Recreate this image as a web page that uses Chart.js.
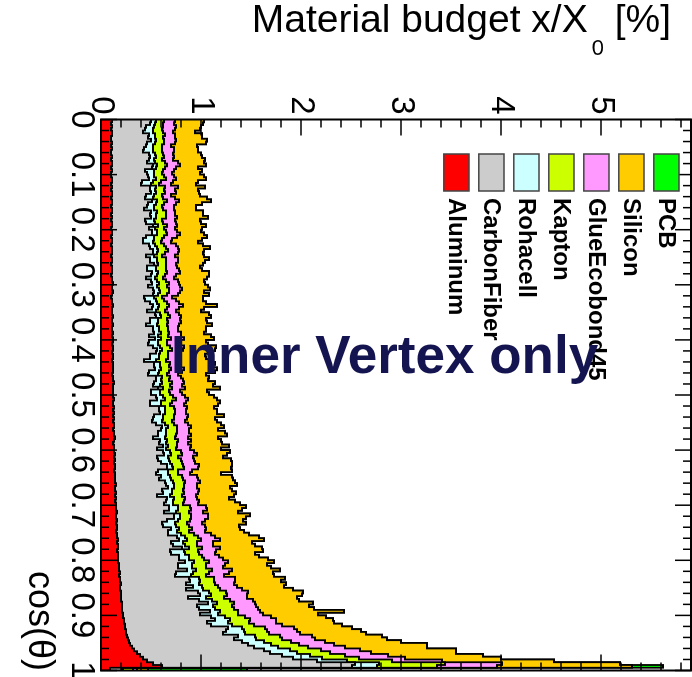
<!DOCTYPE html>
<html>
<head>
<meta charset="utf-8">
<title>Material budget – Inner Vertex only</title>
<script src="https://cdn.jsdelivr.net/npm/chart.js@4.4.1/dist/chart.umd.min.js"></script>
<style>
  html, body { margin: 0; padding: 0; overflow: hidden; background: #ffffff; width: 692px; height: 677px; }
  /* The plot is laid out with cos(theta) along the horizontal axis and then turned a quarter turn clockwise. */
  #wrap { position: absolute; left: 0; top: 0; width: 677px; height: 692px;
          transform-origin: 0 0; transform: translateX(692px) rotate(90deg); }
</style>
</head>
<body>
<div id="wrap"><canvas id="budget" width="677" height="692"></canvas></div>
<script>
// Radiation length per material, x/X0 in %, 200 bins of cos(theta) from 0 to 1.
const aluminum = [
  0.11,0.10,0.11,0.10,0.11,0.11,0.10,0.10,0.11,0.10, 0.11,0.10,0.10,0.11,0.10,0.11,0.11,0.10,0.11,0.10,
  0.10,0.11,0.11,0.10,0.11,0.10,0.11,0.11,0.10,0.11, 0.11,0.10,0.11,0.11,0.10,0.11,0.10,0.11,0.11,0.10,
  0.11,0.11,0.10,0.11,0.11,0.10,0.11,0.11,0.11,0.10, 0.11,0.11,0.10,0.11,0.11,0.11,0.10,0.11,0.11,0.12,
  0.11,0.11,0.12,0.11,0.10,0.11,0.11,0.12,0.11,0.11, 0.11,0.12,0.11,0.11,0.12,0.11,0.11,0.12,0.11,0.12,
  0.12,0.11,0.12,0.12,0.11,0.12,0.12,0.11,0.12,0.12, 0.12,0.12,0.11,0.12,0.12,0.13,0.12,0.12,0.12,0.12,
  0.12,0.13,0.12,0.12,0.13,0.12,0.13,0.12,0.13,0.12, 0.13,0.13,0.12,0.13,0.13,0.14,0.13,0.12,0.13,0.13,
  0.13,0.14,0.13,0.14,0.13,0.14,0.14,0.13,0.14,0.14, 0.14,0.14,0.15,0.14,0.14,0.15,0.14,0.15,0.14,0.15,
  0.15,0.15,0.16,0.15,0.15,0.16,0.15,0.16,0.16,0.15, 0.16,0.16,0.17,0.16,0.17,0.17,0.16,0.17,0.17,0.17,
  0.17,0.18,0.18,0.18,0.19,0.18,0.19,0.19,0.20,0.19, 0.19,0.20,0.20,0.20,0.20,0.21,0.21,0.21,0.21,0.22,
  0.22,0.23,0.23,0.24,0.24,0.25,0.25,0.26,0.27,0.28, 0.29,0.31,0.33,0.36,0.39,0.42,0.46,0.52,0.61,0.09
];
const carbonFiber = [
  0.39,0.39,0.34,0.34,0.31,0.37,0.37,0.40,0.35,0.35, 0.32,0.32,0.38,0.38,0.38,0.35,0.41,0.41,0.33,0.36,
  0.37,0.37,0.30,0.30,0.38,0.39,0.39,0.34,0.34,0.40, 0.36,0.36,0.32,0.39,0.39,0.39,0.34,0.34,0.41,0.38,
  0.40,0.40,0.35,0.31,0.31,0.38,0.38,0.41,0.41,0.35, 0.38,0.38,0.43,0.35,0.35,0.40,0.40,0.34,0.39,0.39,
  0.36,0.41,0.41,0.41,0.33,0.33,0.38,0.40,0.40,0.35, 0.43,0.43,0.38,0.38,0.33,0.41,0.41,0.41,0.37,0.42,
  0.36,0.36,0.40,0.44,0.44,0.37,0.37,0.32,0.41,0.41, 0.42,0.36,0.36,0.43,0.43,0.40,0.40,0.45,0.38,0.38,
  0.43,0.43,0.37,0.37,0.45,0.46,0.46,0.41,0.39,0.39, 0.42,0.48,0.48,0.44,0.44,0.38,0.46,0.46,0.49,0.43,
  0.49,0.49,0.43,0.43,0.47,0.52,0.52,0.44,0.41,0.46, 0.44,0.50,0.50,0.53,0.47,0.47,0.42,0.51,0.51,0.48,
  0.53,0.53,0.47,0.58,0.58,0.50,0.46,0.46,0.54,0.52, 0.51,0.60,0.61,0.54,0.55,0.64,0.53,0.53,0.61,0.61,
  0.67,0.59,0.59,0.68,0.56,0.56,0.69,0.70,0.65,0.73, 0.66,0.77,0.79,0.67,0.78,0.86,0.75,0.77,0.88,0.77,
  0.88,0.91,0.83,0.86,1.03,1.00,0.97,1.11,1.06,1.13, 1.18,1.22,1.30,1.33,1.42,1.50,1.70,2.02,1.90,0.12
];
const rohacell = [
  0.05,0.05,0.08,0.08,0.10,0.06,0.07,0.05,0.08,0.07, 0.09,0.10,0.06,0.06,0.05,0.08,0.04,0.04,0.09,0.07,
  0.06,0.07,0.11,0.10,0.06,0.05,0.05,0.08,0.08,0.05, 0.08,0.07,0.10,0.06,0.06,0.05,0.09,0.09,0.05,0.06,
  0.05,0.05,0.08,0.11,0.10,0.06,0.07,0.05,0.04,0.08, 0.07,0.07,0.04,0.09,0.09,0.06,0.06,0.09,0.06,0.07,
  0.09,0.06,0.06,0.05,0.10,0.11,0.07,0.06,0.06,0.09, 0.05,0.05,0.08,0.08,0.11,0.06,0.06,0.07,0.09,0.06,
  0.09,0.10,0.07,0.05,0.04,0.09,0.09,0.12,0.06,0.06, 0.06,0.10,0.10,0.06,0.05,0.08,0.07,0.05,0.09,0.09,
  0.07,0.08,0.11,0.11,0.06,0.06,0.05,0.09,0.10,0.10, 0.09,0.06,0.05,0.08,0.08,0.12,0.07,0.07,0.05,0.09,
  0.07,0.07,0.11,0.11,0.09,0.05,0.06,0.10,0.12,0.09, 0.12,0.08,0.08,0.06,0.10,0.09,0.13,0.07,0.07,0.09,
  0.09,0.09,0.12,0.06,0.06,0.11,0.13,0.13,0.08,0.09, 0.13,0.08,0.08,0.12,0.12,0.07,0.14,0.14,0.10,0.10,
  0.09,0.14,0.14,0.09,0.17,0.16,0.10,0.10,0.13,0.09, 0.17,0.11,0.11,0.18,0.13,0.09,0.16,0.16,0.10,0.18,
  0.14,0.15,0.21,0.21,0.14,0.18,0.22,0.17,0.22,0.22, 0.23,0.24,0.26,0.27,0.28,0.29,0.30,0.24,0.25,0.01
];
const kapton = [
  0.08,0.08,0.09,0.09,0.10,0.10,0.08,0.08,0.09,0.09, 0.09,0.09,0.08,0.08,0.08,0.10,0.10,0.09,0.09,0.08,
  0.10,0.10,0.08,0.08,0.09,0.09,0.09,0.08,0.10,0.10, 0.08,0.08,0.09,0.09,0.10,0.10,0.08,0.08,0.09,0.09,
  0.09,0.10,0.10,0.08,0.08,0.09,0.09,0.10,0.08,0.08, 0.09,0.09,0.08,0.10,0.10,0.09,0.08,0.08,0.09,0.10,
  0.10,0.10,0.09,0.09,0.08,0.08,0.10,0.10,0.09,0.09, 0.08,0.09,0.09,0.10,0.10,0.09,0.09,0.08,0.10,0.10,
  0.09,0.09,0.10,0.10,0.08,0.09,0.09,0.10,0.10,0.09, 0.10,0.10,0.09,0.08,0.08,0.10,0.10,0.09,0.09,0.10,
  0.10,0.11,0.11,0.09,0.09,0.10,0.10,0.11,0.11,0.10, 0.09,0.09,0.11,0.11,0.10,0.10,0.11,0.11,0.09,0.10,
  0.11,0.11,0.10,0.12,0.12,0.11,0.11,0.10,0.10,0.12, 0.12,0.12,0.10,0.10,0.11,0.12,0.12,0.11,0.11,0.10,
  0.12,0.13,0.13,0.11,0.11,0.12,0.12,0.13,0.13,0.12, 0.13,0.13,0.14,0.14,0.12,0.13,0.14,0.14,0.13,0.15,
  0.15,0.14,0.14,0.16,0.16,0.15,0.15,0.14,0.16,0.16, 0.17,0.17,0.16,0.18,0.18,0.17,0.19,0.19,0.18,0.20,
  0.20,0.20,0.21,0.22,0.23,0.23,0.24,0.25,0.26,0.27, 0.28,0.30,0.31,0.33,0.35,0.37,0.45,0.66,0.60,0.10
];
const glueEcobond45 = [
  0.11,0.11,0.13,0.13,0.10,0.10,0.12,0.12,0.11,0.09, 0.12,0.12,0.10,0.10,0.11,0.13,0.13,0.11,0.11,0.10,
  0.10,0.10,0.12,0.12,0.13,0.11,0.11,0.09,0.12,0.12, 0.12,0.12,0.11,0.09,0.09,0.11,0.13,0.13,0.10,0.11,
  0.11,0.13,0.13,0.10,0.10,0.12,0.12,0.11,0.13,0.13, 0.12,0.12,0.10,0.11,0.13,0.13,0.11,0.11,0.12,0.10,
  0.13,0.13,0.11,0.11,0.10,0.12,0.12,0.14,0.12,0.11, 0.11,0.11,0.13,0.13,0.12,0.10,0.10,0.12,0.13,0.13,
  0.12,0.14,0.14,0.11,0.11,0.12,0.13,0.13,0.10,0.12, 0.13,0.13,0.11,0.11,0.14,0.12,0.12,0.13,0.11,0.12,
  0.12,0.12,0.14,0.14,0.13,0.11,0.11,0.14,0.13,0.13, 0.14,0.14,0.12,0.12,0.15,0.13,0.13,0.11,0.14,0.14,
  0.13,0.15,0.15,0.13,0.13,0.16,0.14,0.14,0.12,0.15, 0.15,0.15,0.13,0.13,0.16,0.14,0.14,0.12,0.15,0.15,
  0.16,0.16,0.14,0.17,0.17,0.15,0.15,0.16,0.14,0.16, 0.17,0.17,0.19,0.16,0.16,0.18,0.18,0.16,0.17,0.19,
  0.19,0.19,0.17,0.20,0.20,0.18,0.21,0.21,0.19,0.19, 0.22,0.22,0.20,0.23,0.23,0.21,0.24,0.24,0.22,0.25,
  0.26,0.26,0.27,0.28,0.29,0.30,0.31,0.32,0.33,0.34, 0.35,0.37,0.39,0.41,0.43,0.46,0.50,0.57,0.60,0.04
];
const silicon = [
  0.29,0.29,0.25,0.25,0.22,0.27,0.27,0.31,0.31,0.26, 0.24,0.24,0.28,0.28,0.32,0.26,0.26,0.22,0.28,0.28,
  0.30,0.30,0.25,0.25,0.27,0.23,0.23,0.29,0.32,0.32, 0.26,0.22,0.22,0.28,0.28,0.31,0.25,0.25,0.29,0.27,
  0.24,0.24,0.30,0.30,0.27,0.27,0.32,0.25,0.25,0.29, 0.31,0.27,0.27,0.23,0.23,0.29,0.33,0.33,0.26,0.26,
  0.28,0.28,0.24,0.31,0.31,0.27,0.27,0.34,0.25,0.25, 0.30,0.30,0.26,0.26,0.33,0.28,0.28,0.23,0.30,0.30,
  0.27,0.27,0.32,0.32,0.29,0.25,0.25,0.31,0.35,0.30, 0.33,0.33,0.28,0.28,0.25,0.31,0.31,0.35,0.27,0.27,
  0.29,0.29,0.34,0.34,0.27,0.31,0.31,0.36,0.28,0.32, 0.33,0.33,0.29,0.36,0.36,0.30,0.30,0.34,0.38,0.31,
  0.36,0.30,0.30,0.37,0.37,0.33,0.33,0.40,0.31,0.35, 0.35,0.35,0.40,0.33,0.33,0.38,0.38,0.32,0.36,0.42,
  0.40,0.35,0.35,0.42,0.38,0.38,0.44,0.34,0.34,0.39, 0.38,0.44,0.44,0.39,0.42,0.42,0.47,0.40,0.40,0.45,
  0.46,0.42,0.48,0.48,0.44,0.50,0.50,0.46,0.52,0.47, 0.51,0.55,0.55,0.50,0.46,0.58,0.53,0.56,0.84,0.55,
  0.55,0.57,0.58,0.60,0.58,0.64,0.66,0.70,0.72,0.76, 0.93,0.82,0.96,0.85,0.95,0.96,1.12,1.18,1.35,0.11
];
const pcb = [
  0,0,0,0,0,0,0,0,0,0, 0,0,0,0,0,0,0,0,0,0,
  0,0,0,0,0,0,0,0,0,0, 0,0,0,0,0,0,0,0,0,0,
  0,0,0,0,0,0,0,0,0,0, 0,0,0,0,0,0,0,0,0,0,
  0,0,0,0,0,0,0,0,0,0, 0,0,0,0,0,0,0,0,0,0,
  0,0,0,0,0,0,0,0,0,0, 0,0,0,0,0,0,0,0,0,0,
  0,0,0,0,0,0,0,0,0,0, 0,0,0,0,0,0,0,0,0,0,
  0,0,0,0,0,0,0,0,0,0, 0,0,0,0,0,0,0,0,0,0,
  0,0,0,0,0,0,0,0,0,0, 0,0,0,0,0,0,0,0,0,0,
  0,0,0,0,0,0,0,0,0,0, 0,0,0,0,0,0,0,0,0,0,
  0,0,0,0,0,0,0,0,0,0, 0,0,0,0,0,0,0,0,0.31,0.99
];

const materials = ['Aluminum', 'CarbonFiber', 'Rohacell', 'Kapton', 'GlueEcobond45', 'Silicon', 'PCB'];
const fillColors = ['#ff0000', '#cccccc', '#ccffff', '#ccff00', '#ff99ff', '#ffcc00', '#00ff00'];

const cosTicks = [0, 0.1, 0.2, 0.3, 0.4, 0.5, 0.6, 0.7, 0.8, 0.9, 1];
const cosTickLabels = ['0', '0.1', '0.2', '0.3', '0.4', '0.5', '0.6', '0.7', '0.8', '0.9', '1'];
const budgetTicks = [0, 1, 2, 3, 4, 5];
const budgetTickLabels = ['0', '1', '2', '3', '4', '5'];

const FONT = '"Liberation Sans", Arial, Helvetica, sans-serif';
const nBins = aluminum.length;
const binLowEdges = aluminum.map((_, i) => i / nBins);

// Stacked histogram: each outline is the running sum, filled down to zero,
// so later (outer) layers sit underneath the inner ones.
const series = [aluminum, carbonFiber, rohacell, kapton, glueEcobond45, silicon, pcb];
const running = new Array(nBins).fill(0);
const datasets = series.map((vals, k) => {
  const pts = vals.map((v, i) => { running[i] += v; return { x: binLowEdges[i], y: running[i] }; });
  pts.push({ x: 1, y: running[nBins - 1] });
  return {
    label: materials[k],
    data: pts,
    stepped: true,
    fill: 'origin',
    backgroundColor: fillColors[k],
    borderColor: '#000000',
    borderWidth: 1.8,
    pointRadius: 0,
    pointHoverRadius: 0
  };
});

function line(ctx, x1, y1, x2, y2) { ctx.beginPath(); ctx.moveTo(x1, y1); ctx.lineTo(x2, y2); ctx.stroke(); }

// Frame with inward ticks on all four sides.
const framePlugin = {
  id: 'frame',
  afterDatasetsDraw(chart) {
    const { ctx, chartArea: a } = chart;
    const xs = chart.scales.x, ys = chart.scales.y;
    ctx.save();
    ctx.strokeStyle = '#000';
    ctx.lineWidth = 1.5;
    for (let k = 0; k <= 50; k++) {
      const p = xs.getPixelForValue(k * 0.02);
      const len = k % 5 === 0 ? 16 : 8;
      line(ctx, p, a.bottom, p, a.bottom - len);
      line(ctx, p, a.top, p, a.top + len);
    }
    for (let k = 0; k <= 40; k++) {
      const p = ys.getPixelForValue(k * 0.2);
      if (p < a.top - 0.5) break;
      const len = k % 5 === 0 ? 16 : 8;
      line(ctx, a.left, p, a.left + len, p);
      line(ctx, a.right, p, a.right - len, p);
    }
    ctx.lineWidth = 2;
    ctx.strokeRect(a.left, a.top, a.right - a.left, a.bottom - a.top);
    ctx.restore();
  }
};

// Legend, axis titles and the caption.
const textPlugin = {
  id: 'texts',
  afterDraw(chart) {
    const { ctx } = chart;
    const ds = chart.data.datasets;
    ctx.save();
    // legend: outermost layer first
    for (let row = 0; row < ds.length; row++) {
      const d = ds[ds.length - 1 - row];
      const cy = 25.6 + row * 35;
      ctx.fillStyle = d.backgroundColor;
      ctx.fillRect(154, cy - 12.6, 37, 25.2);
      ctx.strokeStyle = '#444';
      ctx.lineWidth = 1.5;
      ctx.strokeRect(154, cy - 12.6, 37, 25.2);
      ctx.fillStyle = '#000';
      ctx.font = 'bold 24px ' + FONT;
      ctx.textAlign = 'left';
      ctx.textBaseline = 'middle';
      ctx.fillText(d.label, 198, cy + 1);
    }

    // value-axis title with subscript
    ctx.save();
    ctx.translate(31.7, 440.3);
    ctx.rotate(-Math.PI / 2);
    ctx.fillStyle = '#000';
    ctx.textAlign = 'left';
    ctx.textBaseline = 'alphabetic';
    ctx.font = '39px ' + FONT;
    const head = 'Material budget x/X';
    ctx.fillText(head, 0, 0);
    const w1 = ctx.measureText(head).width + 4;
    ctx.font = '22px ' + FONT;
    ctx.fillText('0', w1, 23.3);
    const w2 = ctx.measureText('0').width;
    ctx.font = '39px ' + FONT;
    ctx.fillText(' [%]', w1 + w2, 0);
    ctx.restore();

    // category-axis title
    ctx.fillStyle = '#000';
    ctx.font = '36px ' + FONT;
    ctx.textAlign = 'right';
    ctx.textBaseline = 'alphabetic';
    ctx.fillText('cos(\u03b8)', 671, 663);

    // caption
    ctx.save();
    ctx.translate(373, 521);
    ctx.rotate(-Math.PI / 2);
    ctx.fillStyle = '#141450';
    ctx.font = 'bold 53px ' + FONT;
    ctx.textAlign = 'left';
    ctx.textBaseline = 'alphabetic';
    ctx.fillText('Inner Vertex only', 0, 0);
    ctx.restore();

    ctx.restore();
  }
};

new Chart(document.getElementById('budget'), {
  type: 'line',
  data: { datasets },
  options: {
    responsive: false,
    maintainAspectRatio: false,
    animation: false,
    events: [],
    layout: { padding: { left: 0, right: 6.5, top: 1, bottom: 0 } },
    plugins: { legend: { display: false }, tooltip: { enabled: false } },
    scales: {
      x: {
        type: 'linear',
        position: 'bottom',
        min: 0,
        max: 1,
        grid: { display: false, drawTicks: false },
        border: { display: false },
        afterBuildTicks(scale) { scale.ticks = cosTicks.map(v => ({ value: v })); },
        afterFit(scale) { scale.height = 101; scale.paddingLeft = 0; scale.paddingRight = 0; },
        ticks: {
          autoSkip: false, maxRotation: 0, minRotation: 0, padding: 0,
          color: '#000', font: { family: FONT, size: 33 },
          callback: (v, i) => cosTickLabels[i]
        }
      },
      y: {
        type: 'linear',
        position: 'left',
        min: 0,
        max: 5.9,
        grid: { display: false, drawTicks: false },
        border: { display: false },
        afterBuildTicks(scale) { scale.ticks = budgetTicks.map(v => ({ value: v })); },
        afterFit(scale) { scale.width = 119.5; scale.paddingTop = 0; scale.paddingBottom = 0; },
        ticks: {
          autoSkip: false, padding: 5,
          color: '#000', font: { family: FONT, size: 33 },
          callback: (v, i) => budgetTickLabels[i]
        }
      }
    }
  },
  plugins: [framePlugin, textPlugin]
});
</script>
</body>
</html>
